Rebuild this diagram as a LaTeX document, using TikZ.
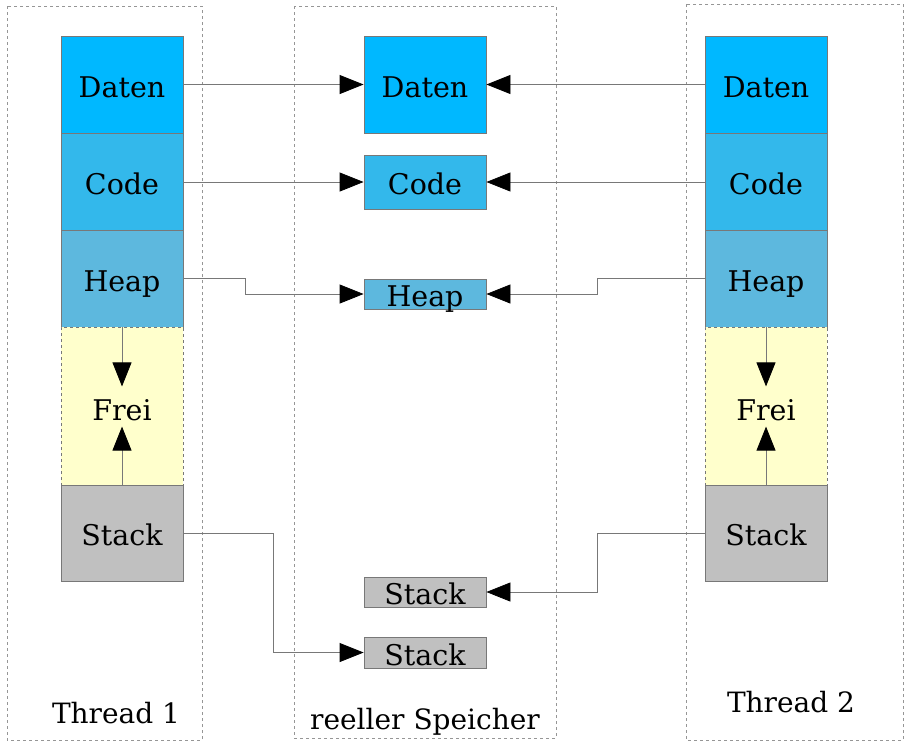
\documentclass[tikz,border=0pt]{standalone}
\usepackage{fontspec}
\setmainfont{DejaVu Serif}
\usetikzlibrary{arrows.meta}
\definecolor{cdaten}{RGB}{0,184,255}
\definecolor{ccode}{RGB}{51,184,235}
\definecolor{cheap}{RGB}{93,184,222}
\definecolor{cfrei}{RGB}{255,255,204}
\definecolor{cstack}{RGB}{192,192,192}
\definecolor{cline}{RGB}{120,120,120}
\definecolor{cframe}{RGB}{150,150,150}
\tikzset{
  seg/.style={draw=cline, line width=0.8pt, minimum width=122pt, inner sep=0pt,
    text height=26pt, text depth=1pt, font=\fontsize{28.5}{30}\selectfont},
  frame/.style={draw=cframe, dash pattern=on 3pt off 3pt, line width=0.8pt},
  conn/.style={draw=cline, line width=0.8pt, -{Triangle[length=24pt,width=19pt,color=black,fill=black]}},
  lbl/.style={font=\fontsize{28}{30}\selectfont, inner sep=0pt, anchor=base}
}
\begin{document}
\begin{tikzpicture}[x=1pt,y=-1pt]
\useasboundingbox (0,0) rectangle (909,748);
% frames
\draw[frame] (7,6) rectangle (202,740);
\draw[frame] (294,6) rectangle (556,738);
\draw[frame] (686,4) rectangle (903,740);
% left thread
\node[seg, fill=cdaten, minimum height=97pt] (l1) at (122,84.5) {Daten};
\node[seg, fill=ccode, minimum height=97pt] (l2) at (122,181.5) {Code};
\node[seg, fill=cheap, minimum height=97pt] (l3) at (122,278.5) {Heap};
\node[seg, fill=cfrei, minimum height=158pt, dashed] (l4) at (122,406) {};
\node[seg, fill=cstack, minimum height=96pt] (l5) at (122,533) {Stack};
\node[lbl, font=\fontsize{28.5}{30}\selectfont] (lf) at (122,420) {Frei};
% right thread
\node[seg, fill=cdaten, minimum height=97pt] (r1) at (766,84.5) {Daten};
\node[seg, fill=ccode, minimum height=97pt] (r2) at (766,181.5) {Code};
\node[seg, fill=cheap, minimum height=97pt] (r3) at (766,278.5) {Heap};
\node[seg, fill=cfrei, minimum height=158pt, dashed] (r4) at (766,406) {};
\node[seg, fill=cstack, minimum height=96pt] (r5) at (766,533) {Stack};
\node[lbl, font=\fontsize{28.5}{30}\selectfont] (rf) at (766,420) {Frei};
% middle real memory
\node[seg, fill=cdaten, minimum height=97pt] (m1) at (425,84.5) {Daten};
\node[seg, fill=ccode, minimum height=54pt] (m2) at (425,182) {Code};
\node[seg, fill=cheap, minimum height=30pt] (m3) at (425,294) {Heap};
\node[seg, fill=cstack, minimum height=30pt] (m4) at (425,592) {Stack};
\node[seg, fill=cstack, minimum height=31pt] (m5) at (425,652.5) {Stack};
% labels
\node[lbl] (t1) at (116,723) {Thread 1};
\node[lbl] (t3) at (425,729) {reeller Speicher};
\node[lbl] (t2) at (791,712) {Thread 2};
% growth arrows
\draw[conn] (l3.south) -- ++(0,59);
\draw[conn] (l5.north) -- ++(0,-58);
\draw[conn] (r3.south) -- ++(0,59);
\draw[conn] (r5.north) -- ++(0,-58);
% connectors
\draw[conn] (l1.east) -- (m1.west);
\draw[conn] (l2.east |- m2.west) -- (m2.west);
\draw[conn] (l3.east) -- (245,278.5) -- (245,294) -- (m3.west);
\draw[conn] (l5.east) -- (273,533) -- (273,652.5) -- (m5.west);
\draw[conn] (r1.west) -- (m1.east);
\draw[conn] (r2.west |- m2.east) -- (m2.east);
\draw[conn] (r3.west) -- (597,278.5) -- (597,294) -- (m3.east);
\draw[conn] (r5.west) -- (597,533) -- (597,592) -- (m4.east);
\end{tikzpicture}
\end{document}
